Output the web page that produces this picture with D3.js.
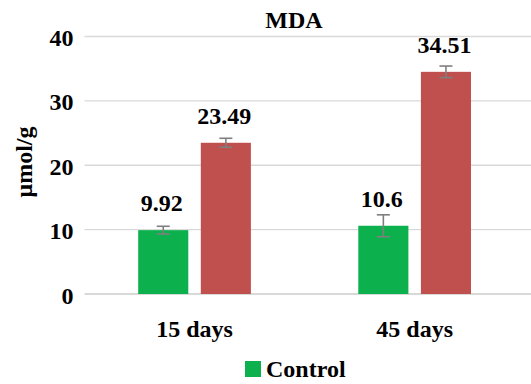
<!DOCTYPE html>
<html>
<head>
<meta charset="utf-8">
<script src="https://cdn.jsdelivr.net/npm/d3@7"></script>
</head>
<body style="margin:0">
<svg id="chart" width="531" height="384"></svg>
<script>
// Data
const categories = ["15 days", "45 days"];
const seriesNames = ["Control", "Treated"];
const controlValues = [9.92, 10.6];
const treatedValues = [23.49, 34.51];
const controlErrors = [0.6, 1.7];
const treatedErrors = [0.7, 0.9];
const yTicks = [0, 10, 20, 30, 40];
const legendNames = ["Control"];

const colors = { Control: "#0cb14e", Treated: "#c0504d" };
const FS = 24;

const svg = d3.select("#chart");
const W = 531;
const plot = { left: 84.5, right: 524.7, top: 36.5, bottom: 294 };

// Shared text styling
function styleText(sel) {
  return sel
    .attr("font-size", FS)
    .attr("font-weight", "bold")
    .attr("fill", "#000")
    .style("font-family", '"Liberation Serif"');
}

const y = d3.scaleLinear().domain([0, 40]).range([plot.bottom, plot.top]);
const x0 = d3.scaleBand().domain(categories).range([plot.left, plot.right]).paddingInner(0).paddingOuter(0);
const groupW = 112.7;
const x1 = d3.scaleBand().domain(seriesNames)
  .range([(x0.bandwidth() - groupW) / 2, (x0.bandwidth() + groupW) / 2])
  .paddingInner(0.2).paddingOuter(0);

// Gridlines
svg.append("g").selectAll("line").data(yTicks).join("line")
  .attr("x1", plot.left).attr("x2", W)
  .attr("y1", d => y(d)).attr("y2", d => y(d))
  .attr("stroke", "#d9d9d9")
  .attr("stroke-width", d => d === 0 ? 2 : 1.3);

// Y tick labels
styleText(svg.append("g").selectAll("text").data(yTicks).join("text")
  .attr("x", 73.5).attr("y", d => y(d) + 9.5)
  .attr("text-anchor", "end"))
  .text(d => d3.format("d")(d));

// Y axis title
styleText(svg.append("text")
  .attr("transform", "translate(32,162) rotate(-90)")
  .attr("text-anchor", "middle"))
  .text("μmol/g");

// Chart title
styleText(svg.append("text")
  .attr("x", 294).attr("y", 28)
  .attr("text-anchor", "middle"))
  .text("MDA");

// Bars
const rows = categories.map((c, i) => ({
  cat: c,
  bars: [
    { s: "Control", v: controlValues[i], e: controlErrors[i] },
    { s: "Treated", v: treatedValues[i], e: treatedErrors[i] }
  ]
}));

const groups = svg.append("g").selectAll("g").data(rows).join("g")
  .attr("transform", d => `translate(${x0(d.cat)},0)`);

groups.selectAll("rect").data(d => d.bars).join("rect")
  .attr("x", d => x1(d.s))
  .attr("width", x1.bandwidth())
  .attr("y", d => y(d.v))
  .attr("height", d => y(0) - y(d.v))
  .attr("fill", d => colors[d.s]);

// Error bars
const cx = d => x1(d.s) + x1.bandwidth() / 2;
const eb = groups.selectAll("g.err").data(d => d.bars).join("g").attr("class", "err")
  .attr("stroke", "#7f7f7f").attr("stroke-width", 1.6);
eb.append("line")
  .attr("x1", cx).attr("x2", cx)
  .attr("y1", d => y(d.v + d.e)).attr("y2", d => y(d.v - d.e));
eb.append("line")
  .attr("x1", d => cx(d) - 6.5).attr("x2", d => cx(d) + 6.5)
  .attr("y1", d => y(d.v + d.e)).attr("y2", d => y(d.v + d.e));
eb.append("line")
  .attr("x1", d => cx(d) - 6.5).attr("x2", d => cx(d) + 6.5)
  .attr("y1", d => y(d.v - d.e)).attr("y2", d => y(d.v - d.e));

// Value labels
styleText(groups.selectAll("text.val").data(d => d.bars).join("text").attr("class", "val")
  .attr("x", d => cx(d) - 1.5)
  .attr("y", d => y(d.v) - 19)
  .attr("text-anchor", "middle"))
  .text(d => d.v);

// Category labels
styleText(svg.append("g").selectAll("text").data(categories).join("text")
  .attr("x", d => x0(d) + x0.bandwidth() / 2)
  .attr("y", 337)
  .attr("text-anchor", "middle"))
  .text(d => d);

// Legend
const lg = svg.append("g").attr("transform", "translate(245,361)");
lg.selectAll("rect").data(legendNames).join("rect")
  .attr("x", 0).attr("y", 0).attr("width", 16).attr("height", 16)
  .attr("fill", d => colors[d]);
styleText(lg.selectAll("text").data(legendNames).join("text")
  .attr("x", 21).attr("y", 15.5))
  .text(d => d);
</script>
</body>
</html>
